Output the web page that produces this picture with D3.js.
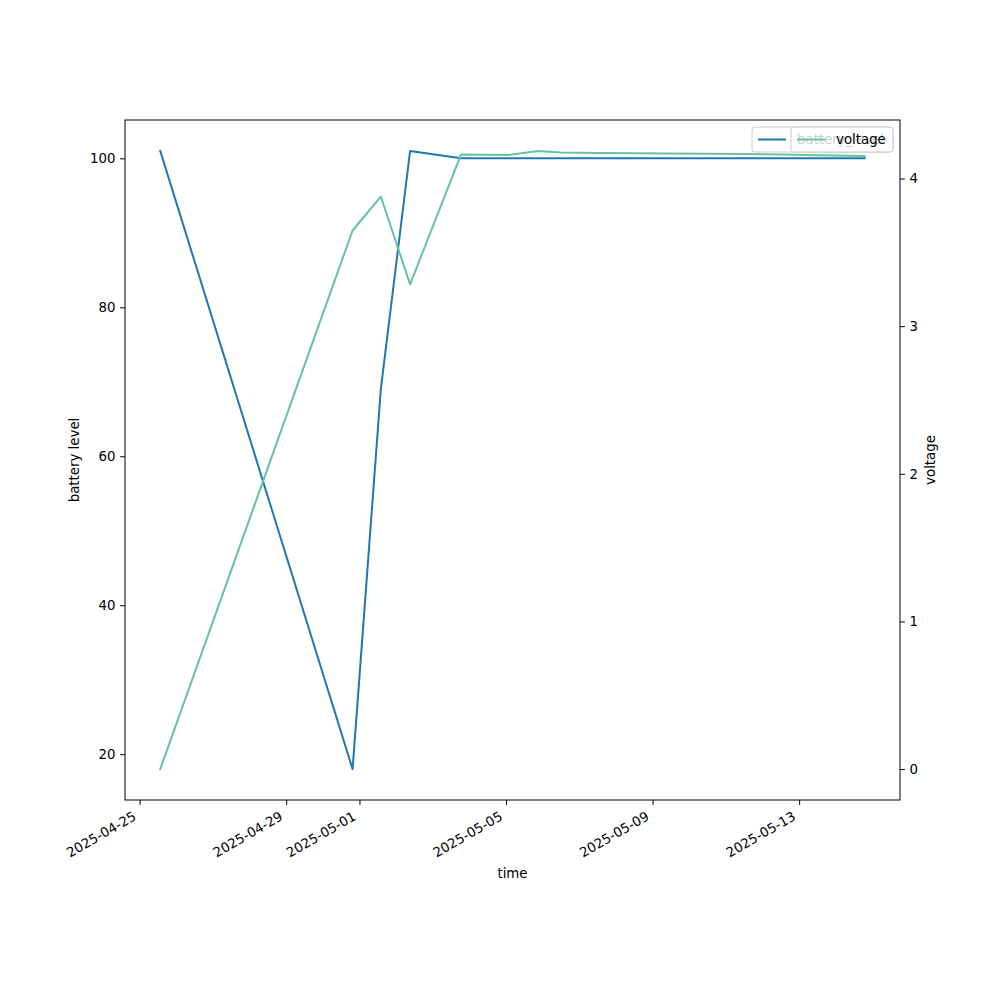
<!DOCTYPE html>
<html>
<head>
<meta charset="utf-8">
<script src="https://cdn.jsdelivr.net/npm/d3@7"></script>
<style>
  body { margin: 0; background: #fff; }
  svg text { font-family: "DejaVu Sans", sans-serif; }
</style>
</head>
<body>
<svg id="chart" width="1000" height="1000"></svg>
<script>
// ---- data ----
const times = [
  "2025-04-25T13:30", "2025-04-30T19:30", "2025-05-01T14:00", "2025-05-02T09:10",
  "2025-05-03T18:30", "2025-05-05T01:20", "2025-05-05T21:10", "2025-05-06T11:20",
  "2025-05-07T12:00", "2025-05-08T12:00", "2025-05-09T12:00", "2025-05-10T12:00",
  "2025-05-11T12:00", "2025-05-12T12:00", "2025-05-13T12:00", "2025-05-14T19:00"
];
const batteryLevel = [101, 18, 69, 101, 100, 100, 100, 100, 100, 100, 100, 100, 100, 100, 100, 100];
const voltage = [0, 3.648, 3.878, 3.283, 4.162, 4.160, 4.187, 4.177, 4.173, 4.171, 4.169, 4.167, 4.166, 4.162, 4.158, 4.152];
const xTickLabels = ["2025-04-25", "2025-04-29", "2025-05-01", "2025-05-05", "2025-05-09", "2025-05-13"];
const leftTicks = [20, 40, 60, 80, 100];
const rightTicks = [0, 1, 2, 3, 4];

// ---- layout ----
const L = 125, R = 900, T = 120, B = 800;
const svg = d3.select("#chart");
const parse = d3.timeParse("%Y-%m-%dT%H:%M");
const parseDay = d3.timeParse("%Y-%m-%d");
const dates = times.map(parse);

function padded(ext) { const r = ext[1] - ext[0]; return [ext[0] - 0.05 * r, ext[1] + 0.05 * r]; }
const xExt = padded(d3.extent(dates, d => +d));
const x = d3.scaleTime().domain([new Date(xExt[0]), new Date(xExt[1])]).range([L, R]);
const yL = d3.scaleLinear().domain(padded(d3.extent(batteryLevel))).range([B, T]);
const yR = d3.scaleLinear().domain(padded(d3.extent(voltage))).range([B, T]);

const blue = "#1f77b4", teal = "#66c2a5";

// lines
const lineB = d3.line().x((d, i) => x(dates[i])).y(d => yL(d));
const lineV = d3.line().x((d, i) => x(dates[i])).y(d => yR(d));
svg.append("path").attr("d", lineB(batteryLevel)).attr("fill", "none")
  .attr("stroke", blue).attr("stroke-width", 2).attr("stroke-linejoin", "round").attr("stroke-linecap", "square");
svg.append("path").attr("d", lineV(voltage)).attr("fill", "none")
  .attr("stroke", teal).attr("stroke-width", 2).attr("stroke-linejoin", "round").attr("stroke-linecap", "square");

// frame
svg.append("rect").attr("x", L).attr("y", T).attr("width", R - L).attr("height", B - T)
  .attr("fill", "none").attr("stroke", "#000").attr("stroke-width", 1);

// axes
const fs = "13.33px";
const xAxis = d3.axisBottom(x).tickValues(xTickLabels.map(parseDay)).tickFormat(d3.timeFormat("%Y-%m-%d")).tickSize(4.9).tickPadding(0);
const gx = svg.append("g").attr("transform", `translate(0,${B})`).call(xAxis);
gx.select(".domain").remove();
gx.selectAll("text").remove();
xTickLabels.forEach(s => {
  const px = x(parseDay(s));
  svg.append("text").attr("transform", `translate(${px - 2.5},${B + 19}) rotate(-30)`)
    .attr("text-anchor", "end").attr("font-size", fs).attr("fill", "#000").text(s);
});

const gl = svg.append("g").attr("transform", `translate(${L},0)`)
  .call(d3.axisLeft(yL).tickValues(leftTicks).tickSize(4.9).tickPadding(4.7));
gl.select(".domain").remove();
gl.selectAll("text").attr("font-size", fs).attr("font-family", "DejaVu Sans");

const gr = svg.append("g").attr("transform", `translate(${R},0)`)
  .call(d3.axisRight(yR).tickValues(rightTicks).tickFormat(d3.format("d")).tickSize(4.9).tickPadding(4.7));
gr.select(".domain").remove();
gr.selectAll("text").attr("font-size", fs).attr("font-family", "DejaVu Sans");

// axis labels
svg.append("text").attr("x", (L + R) / 2).attr("y", 878).attr("text-anchor", "middle").attr("font-size", fs).text("time");
svg.append("text").attr("transform", `translate(79,${(T + B) / 2}) rotate(-90)`).attr("text-anchor", "middle").attr("font-size", fs).text("battery level");
svg.append("text").attr("transform", `translate(935,${(T + B) / 2}) rotate(-90)`).attr("text-anchor", "middle").attr("font-size", fs).text("voltage");

// legends (two overlapping, like twin-axes matplotlib)
function legend(x0, w, color, label) {
  const g = svg.append("g");
  g.append("rect").attr("x", x0).attr("y", 127).attr("width", w).attr("height", 25).attr("rx", 3)
    .attr("fill", "#fff").attr("fill-opacity", 0.8).attr("stroke", "#ccc").attr("stroke-width", 1);
  g.append("line").attr("x1", x0 + 6).attr("x2", x0 + 34).attr("y1", 139.5).attr("y2", 139.5)
    .attr("stroke", color).attr("stroke-width", 2);
  g.append("text").attr("x", x0 + 45).attr("y", 144).attr("font-size", fs).attr("fill", "#000").text(label);
}
legend(752, 141, blue, "battery_level");
legend(791, 102, teal, "voltage");
</script>
</body>
</html>
